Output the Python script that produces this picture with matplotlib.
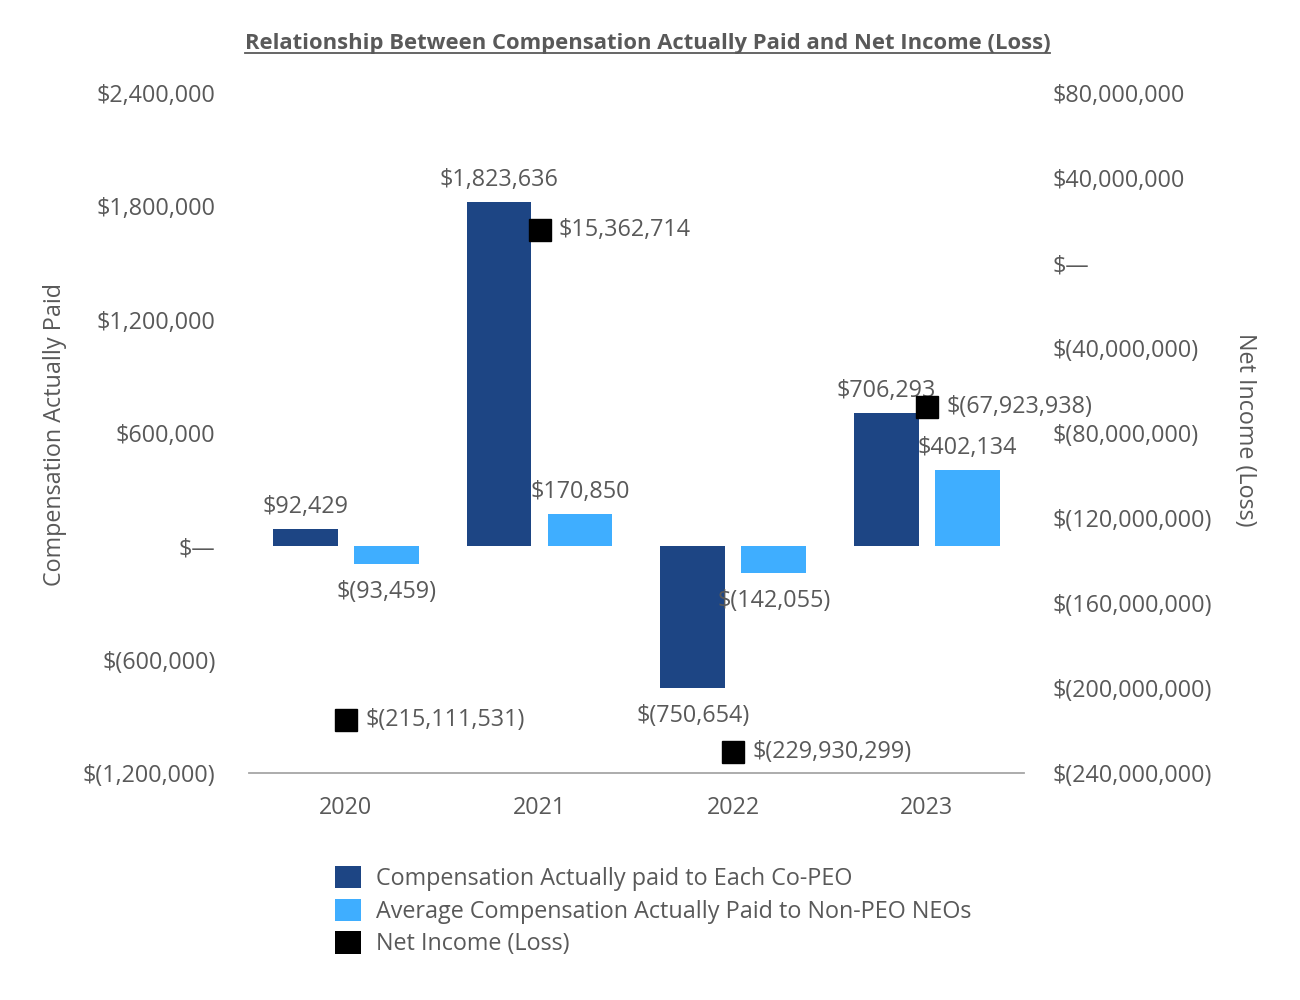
import matplotlib
matplotlib.use("Agg")
import matplotlib.pyplot as plt
from matplotlib.patches import Patch
from matplotlib.lines import Line2D

plt.rcParams['font.family'] = ['Open Sans', 'DejaVu Sans']

years = ["2020", "2021", "2022", "2023"]
peo_cap = [92429, 1823636, -750654, 706293]
neo_cap = [-93459, 170850, -142055, 402134]
net_income = [-215111531, 15362714, -229930299, -67923938]

left_ticks = [-1200000, -600000, 0, 600000, 1200000, 1800000, 2400000]
right_ticks = [-240000000, -200000000, -160000000, -120000000, -80000000,
               -40000000, 0, 40000000, 80000000]

DARK = "#1D4584"
LIGHT = "#3FAEFF"
GRAY = "#595959"
FS = 16.8


def fmt(v):
    if v == 0:
        return "$\u2014"
    if v < 0:
        return "$({:,})".format(-v)
    return "${:,}".format(v)


fig = plt.figure(figsize=(13, 10), dpi=100)
ax = fig.add_axes([0.1915, 0.227, 0.596, 0.680])
ax2 = ax.twinx()

x = list(range(len(years)))
w = 0.335
off = 0.209
xd = [i - off for i in x]
xl = [i + off for i in x]
ax.bar(xd, peo_cap, width=w, color=DARK, zorder=2)
ax.bar(xl, neo_cap, width=w, color=LIGHT, zorder=2)

for xi, v in zip(xd + xl, peo_cap + neo_cap):
    if v >= 0:
        ax.annotate(fmt(v), (xi, v), xytext=(0, 16), textcoords="offset points",
                    ha="center", va="center", fontsize=FS, color=GRAY)
    else:
        ax.annotate(fmt(v), (xi, v), xytext=(0, -20), textcoords="offset points",
                    ha="center", va="center", fontsize=FS, color=GRAY)

ax.set_xlim(-0.5, 3.5)
ax.set_ylim(-1200000, 2400000)
ax2.set_ylim(-240000000, 80000000)

ax2.plot(x, net_income, linestyle="none", marker="s", markersize=16.5,
         color="black", zorder=5)
for xi, v in zip(x, net_income):
    ax2.annotate(fmt(v), (xi, v), xytext=(14, 0), textcoords="offset points",
                 ha="left", va="center", fontsize=FS, color=GRAY)

ax.set_yticks(left_ticks)
ax.set_yticklabels([fmt(t) for t in left_ticks])
ax2.set_yticks(right_ticks)
ax2.set_yticklabels([fmt(t) for t in right_ticks])
ax.set_xticks(x)
ax.set_xticklabels(years)

ax.tick_params(axis="y", length=0, pad=24, labelsize=FS, labelcolor=GRAY)
ax2.tick_params(axis="y", length=0, pad=21, labelsize=FS, labelcolor=GRAY)
ax.tick_params(axis="x", length=0, pad=16.5, labelsize=FS, labelcolor=GRAY)

for a in (ax, ax2):
    for s in ("top", "left", "right", "bottom"):
        a.spines[s].set_visible(False)
ax.axhline(-1200000, color="#A6A6A6", linewidth=1.3, clip_on=False, zorder=3)

fig.text(0.042, 0.566, "Compensation Actually Paid", rotation=90,
         ha="center", va="center", fontsize=FS, color=GRAY)
fig.text(0.9575, 0.570, "Net Income (Loss)", rotation=270,
         ha="center", va="center", fontsize=FS, color=GRAY)

title = fig.text(0.498, 0.956, "Relationship Between Compensation Actually Paid and Net Income (Loss)",
                 ha="center", va="center", fontsize=15.8, fontweight="bold", color=GRAY)

handles = [Patch(facecolor=DARK, edgecolor="none"),
           Patch(facecolor=LIGHT, edgecolor="none"),
           Patch(facecolor="black", edgecolor="none")]
labels = ["Compensation Actually paid to Each Co-PEO",
          "Average Compensation Actually Paid to Non-PEO NEOs",
          "Net Income (Loss)"]
leg = fig.legend(handles, labels, loc="upper left", bbox_to_anchor=(0.258, 0.134),
                 frameon=False, fontsize=FS, handlelength=1.1, handleheight=1.1,
                 labelspacing=0.32, handletextpad=0.65, borderpad=0, borderaxespad=0)
for t in leg.get_texts():
    t.set_color(GRAY)

fig.canvas.draw()
r = fig.canvas.get_renderer()
bb = title.get_window_extent(r).transformed(fig.transFigure.inverted())
fig.add_artist(Line2D([bb.x0, bb.x1], [bb.y0 + 0.002, bb.y0 + 0.002],
                      transform=fig.transFigure, color=GRAY, linewidth=1.3))

fig.savefig("out.png", dpi=100)
